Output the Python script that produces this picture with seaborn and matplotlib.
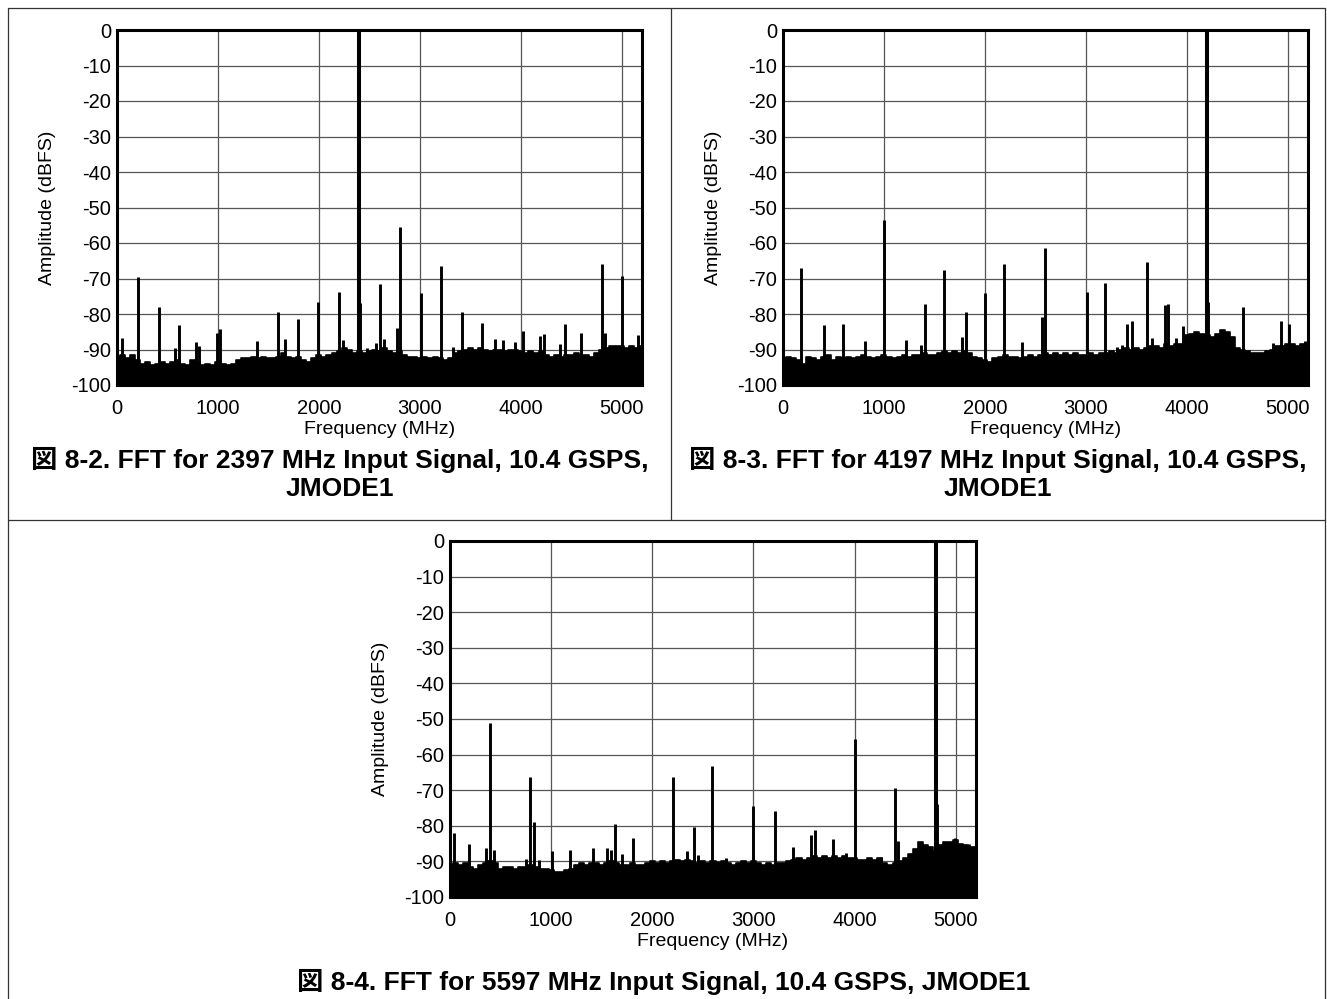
import numpy as np
import pandas as pd
import seaborn as sns
import matplotlib
matplotlib.use("Agg")
import matplotlib.pyplot as plt
from matplotlib.lines import Line2D
from matplotlib import font_manager

# ---------------- data ----------------
noise_freq = list(range(0, 5201, 50))

noise1 = [-92, -91.5, -92.5, -91.5, -93, -94, -93.5, -94.5, -94, -93.5, -94, -93.5, -93, -94, -94.5,
          -93, -93.5, -94.5, -94, -94.5, -93.5, -94, -94.5, -94, -93, -92.5, -92.5, -92, -92.5, -92,
          -92.5, -92.5, -92, -91, -92, -92.5, -92, -93, -93.5, -92.5, -91.5, -92, -91.5, -91, -90.5,
          -89.5, -90, -91, -90.5, -91, -90.5, -90, -90.5, -89.5, -90.5, -91, -90.5, -91.5, -92, -92,
          -92.5, -92, -92.5, -92, -92.5, -93, -92.5, -91, -90.5, -90, -89.5, -90, -89.5, -90, -90.5,
          -90, -90, -90.5, -90, -90, -90.5, -91, -90.5, -91, -90.5, -91.5, -92, -91.5, -92, -91.5,
          -91.5, -91, -91.5, -91.5, -92, -91, -90, -89.5, -89, -89, -89, -89.5, -89, -89.5, -89]

noise2 = [-92.5, -92, -92.5, -93, -94, -92, -92.5, -93, -92, -91.5, -93, -92, -92.5, -92, -92.5,
          -92, -91.5, -92, -92.5, -92, -91.5, -92, -92.5, -92, -91.5, -92, -91.5, -91.5, -91, -91.5,
          -91.5, -91, -90.5, -91, -90.5, -91, -90.5, -91, -92, -92.5, -93, -93.5, -92.5, -92, -91.5,
          -92, -92, -92.5, -92, -91.5, -92, -91.5, -91, -91.5, -91, -91.5, -91, -91.5, -91, -91.5,
          -91.5, -91, -91.5, -91, -91, -90.5, -91, -90, -89.5, -90, -89.5, -90, -89.5, -89, -89,
          -89.5, -88.5, -89, -88.5, -88.5, -86, -85.5, -85, -85.5, -86, -86.5, -85.5, -84.5, -85, -86.5,
          -89.5, -90, -90.5, -91, -91, -91, -90.5, -90, -89, -89, -88.5, -88.5, -89, -88.5, -88.5]

noise3 = [-91, -90.5, -91, -90.5, -91.5, -92, -91, -90.5, -90, -90.5, -92, -91.5, -91.5, -92, -91.5,
          -91.5, -91, -91.5, -92, -92, -92.5, -93, -93, -92.5, -92, -91, -90.5, -91, -90.5, -90.5,
          -91, -90.5, -90, -90.5, -91, -91, -90.5, -91, -91, -90.5, -90, -90.5, -90, -90.5, -90,
          -89.5, -90, -89.5, -90, -90.5, -90, -90.5, -90, -90.5, -90, -90.5, -91, -90.5, -90, -90.5,
          -90, -90.5, -91, -90.5, -91, -90.5, -90.5, -90, -89.5, -89, -89.5, -89, -88.5, -89, -88.5,
          -89, -88.5, -89, -88.5, -89, -89, -89.5, -89.5, -89, -89.5, -89, -90.5, -91, -90.5, -90,
          -89, -88, -86.5, -84.5, -85.5, -86, -87, -85.5, -84.5, -84.5, -84, -85, -85.5, -86, -86]

spur_f1 = [46, 211, 416, 578, 617, 782, 815, 987, 1020, 1386, 1591, 1667, 1795, 1993, 2201, 2241,
           2397, 2410, 2472, 2561, 2604, 2647, 2769, 2803, 3009, 3214, 3330, 3419, 3617, 3743, 3825,
           3947, 4023, 4188, 4231, 4386, 4436, 4594, 4799, 4832, 5003, 5162]
spur_a1 = [-86.8, -69.5, -78, -89.5, -83.2, -87.9, -88.9, -85.3, -84.1, -87.5, -79.3, -87, -81.4,
           -76.7, -73.7, -87.3, -0.5, -77, -89.5, -88.3, -71.6, -87, -83.9, -55.5, -74, -66.4, -89.4,
           -79.3, -82.6, -87.1, -87.3, -88, -84.8, -86.1, -85.7, -88.4, -82.8, -85.3, -66, -85.3,
           -69.2, -85.9]

spur_f2 = [182, 403, 591, 812, 1003, 1218, 1370, 1409, 1591, 1772, 1812, 2003, 2185, 2370, 2561,
           2594, 3007, 3188, 3310, 3360, 3409, 3452, 3601, 3650, 3779, 3818, 3888, 3964, 4197, 4210,
           4558, 4855, 4928, 5010, 5169]
spur_a2 = [-67, -83.2, -82.8, -87.7, -53.5, -87.3, -88.8, -77.2, -67.5, -86.4, -79.4, -74, -66, -88,
           -80.9, -61.5, -73.9, -71.3, -89.4, -88.6, -82.8, -82, -65.3, -86.9, -77.4, -77.2, -86.9,
           -83.5, -0.5, -76.5, -78.1, -88.3, -82, -82.7, -87.7]

spur_f3 = [40, 185, 360, 399, 436, 756, 795, 835, 881, 1013, 1188, 1409, 1548, 1587, 1627, 1703,
           1805, 2201, 2340, 2416, 2449, 2594, 2647, 2726, 2993, 3214, 3389, 3439, 3568, 3604, 3785,
           3914, 4006, 4257, 4396, 4429, 4803, 4815, 4997, 5129]
spur_a3 = [-81.9, -85.1, -86.3, -51, -86.9, -89.3, -66.4, -78.8, -89.7, -87, -86.8, -86.1, -86.1,
           -86.9, -79.6, -87.8, -83.3, -66.3, -87.2, -80.4, -88.3, -63.3, -89.8, -89, -74.4, -75.8,
           -85.9, -89, -82.5, -81.2, -83.6, -87.6, -55.5, -88.7, -69.3, -84.4, -0.5, -74, -83.5, -85.1]

main_tones = [2397, 4197, 4803]

x_ticks = [0, 1000, 2000, 3000, 4000, 5000]
y_ticks = [0, -10, -20, -30, -40, -50, -60, -70, -80, -90, -100]

titles = [
    "図 8-2. FFT for 2397 MHz Input Signal, 10.4 GSPS,\nJMODE1",
    "図 8-3. FFT for 4197 MHz Input Signal, 10.4 GSPS,\nJMODE1",
    "図 8-4. FFT for 5597 MHz Input Signal, 10.4 GSPS, JMODE1",
]
x_label = "Frequency (MHz)"
y_label = "Amplitude (dBFS)"

# ---------------- style ----------------
sns.set_theme(style="white")
available = {f.name for f in font_manager.fontManager.ttflist}
fam = [f for f in ["Liberation Sans", "Noto Sans CJK JP", "DejaVu Sans"] if f in available]
plt.rcParams["font.family"] = fam
plt.rcParams["axes.unicode_minus"] = False

W, H = 1327, 999
fig = plt.figure(figsize=(W / 100, H / 100), dpi=100)
fig.patch.set_facecolor("white")


def fx(px):
    return px / W


def fy(py):
    return 1 - py / H


def panel(left, top, right, bottom, nf, nd, sf, sa, main):
    ax = fig.add_axes([fx(left), fy(bottom), fx(right - left), (bottom - top) / H])
    ax.set_facecolor("white")
    ax.fill_between(nf, -100, nd, step="mid", color="black", lw=0, zorder=3)
    sns.lineplot(x=nf, y=nd, drawstyle="steps-mid", color="black", lw=1.2, ax=ax, zorder=3)
    widths = [2.9 if f == main else 2.1 for f in sf]
    ax.vlines(sf, -100, sa, colors="black", linewidths=widths, zorder=4)
    ax.set_xlim(0, 5200)
    ax.set_ylim(-100, 0)
    ax.set_xticks(x_ticks)
    ax.set_xticklabels([str(t) for t in x_ticks])
    ax.set_yticks(y_ticks)
    ax.set_yticklabels([str(t) for t in y_ticks])
    ax.grid(True, color="#555555", lw=0.9, zorder=1)
    ax.set_axisbelow(True)
    for s in ax.spines.values():
        s.set_visible(True)
        s.set_color("black")
        s.set_linewidth(2.2)
        s.set_zorder(6)
    ax.tick_params(axis="x", length=0, labelsize=14.5, colors="black", pad=10)
    ax.tick_params(axis="y", length=0, labelsize=14.5, colors="black", pad=4)
    ax.set_xlabel(x_label, fontsize=14, color="black", labelpad=2.5)
    ax.set_ylabel(y_label, fontsize=14, color="black", labelpad=11)
    return ax


panel(117, 30, 642, 385, noise_freq, noise1, spur_f1, spur_a1, main_tones[0])
panel(783, 30, 1308, 385, noise_freq, noise2, spur_f2, spur_a2, main_tones[1])
panel(450, 541, 976, 897, noise_freq, noise3, spur_f3, spur_a3, main_tones[2])

tkw = dict(fontsize=19, fontweight="bold", color="black", ha="center", va="center",
           linespacing=1.2)
fig.text(fx(340), fy(474), titles[0], **tkw)
fig.text(fx(998), fy(474), titles[1], **tkw)
fig.text(fx(664), fy(982), titles[2], **tkw)

# table frame lines
lc = "#333333"
for (x0, y0, x1, y1) in [(8, 8, 1325, 8), (8, 8, 8, 999), (1325, 8, 1325, 999),
                         (671, 8, 671, 520), (8, 520, 1325, 520)]:
    fig.add_artist(Line2D([fx(x0), fx(x1)], [fy(y0), fy(y1)], color=lc, lw=0.9,
                          transform=fig.transFigure))

fig.savefig("out.png", dpi=100, facecolor="white")
